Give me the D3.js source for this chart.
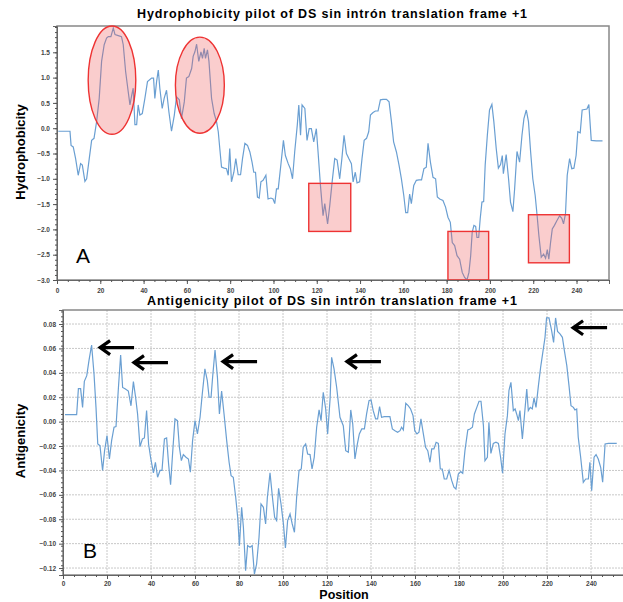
<!DOCTYPE html>
<html lang="en">
<head>
    <meta charset="UTF-8">
    <title>Hydrophobicity and Antigenicity plots</title>
    <style>
        body {
            margin: 0;
            background: #fff;
            font-family: Arial, "Liberation Sans", sans-serif;
        }
        svg {
            display: block;
        }
        .tick text {
            font-size: 6.5px;
            font-weight: bold;
            fill: #444;
        }
        .tick line {
            stroke: #555;
        }
        .domain {
            stroke: #666;
        }
    </style>
    <script src="https://d3js.org/d3.v7.min.js"></script>
</head>
<body>
    <svg width="623" height="602"></svg>

    <script>
        // panel A: hydrophobicity
        const hydroPos = [0.6, 6, 6.5, 7.5, 8.6, 9.8, 10.9, 11.7, 12.9, 13.7, 14.9, 16, 17.1, 18.3, 19.5, 20.6, 21.8, 22.9, 23.7, 24.9,
            26, 26.8, 28.3, 29.8, 30.6, 31.7, 32.9, 33.7, 34.5, 35.2, 36, 36.8, 37.5, 38.3, 39.4, 40.6, 41.8, 43.7, 44.6, 45.2,
            46, 46.8, 47.5, 48.6, 49.5, 50.6, 51.7, 52.9, 54.2, 55.2, 56.5, 57.5, 58.8, 59.8, 60.9, 62.2, 62.9, 63.7, 64.5, 65.5,
            66.5, 67.2, 68, 68.6, 69.5, 70.2, 71.4, 72.6, 73.7, 74.5, 75.2, 76, 77.2, 78.3, 79.1, 79.8, 80.6, 81.7, 82.6, 83.7,
            84.8, 85.7, 86.8, 88, 89.1, 90.1, 90.9, 91.7, 92.6, 93.4, 94.2, 95.2, 96.5, 97.5, 98.8, 99.8, 100.6, 101.4, 102.2, 103.4,
            104.6, 105.5, 106.8, 107.8, 108.8, 109.8, 111, 111.7, 112.5, 113.2, 114.5, 115.5, 116.5, 117.5, 118.6, 119.8, 120.6, 121.7, 122.9, 123.7,
            125, 126, 127.1, 128.3, 129.4, 130.6, 131.6, 132.6, 133.7, 134.8, 136, 136.8, 137.8, 138.6, 139.8, 140.9, 141.9, 143, 144, 144.8,
            146, 147.1, 148.3, 149.4, 150.6, 152.2, 153.4, 154.5, 155.5, 156.8, 158, 159.1, 160.2, 161.1, 162, 162.9, 163.7, 164.8, 166, 167.2,
            168.4, 169.5, 170.6, 171.4, 172.5, 173.7, 174.9, 175.7, 176.8, 178.3, 179.5, 180.6, 181.7, 182.6, 183.7, 184.8, 186, 187.2, 188.3, 189.4,
            190.3, 191.1, 191.8, 192.6, 193.4, 194, 194.8, 195.5, 196.3, 197.1, 197.8, 198.8, 199.8, 200.9, 201.8, 202.9, 203.9, 204.9, 205.7, 206.2,
            207.5, 208.6, 209.5, 210.6, 211.4, 212.5, 213.7, 214.8, 215.7, 216.8, 217.8, 218.8, 219.8, 220.9, 221.8, 222.6, 223.7, 224.8, 225.7, 226.5,
            227.2, 228, 228.8, 229.8, 230.9, 232.2, 233.2, 234, 234.9, 235.7, 236.8, 237.8, 238.8, 239.8, 240.6, 241.7, 242.6, 243.7, 244.8, 245.7,
            246.8, 249.1, 252];
        const hydroVal = [-0.06, -0.06, -0.34, -0.37, -0.6, -0.93, -0.7, -0.73, -1.05, -1.0, -0.6, -0.24, -0.2, 0.13, 0.59, 1.32, 1.65, 1.78, 1.81, 1.81,
            1.98, 1.85, 1.83, 1.81, 1.65, 1.12, 0.72, 0.46, 0.65, 0.79, 0.07, 0.07, 0.46, 0.26, 0.29, 0.59, 0.92, 0.99, 0.99, 0.59,
            0.92, 1.15, 0.79, 0.39, 0.59, 0.75, 0.32, -0.06, 0.26, 0.62, 0.56, 0.19, 0.52, 0.99, 1.02, 1.18, 1.42, 1.51, 1.66, 1.32,
            1.51, 1.38, 1.58, 1.38, 1.55, 1.32, 0.59, 0.29, 0.13, -0.07, -0.4, -0.77, -0.79, -0.8, -0.93, -0.4, -1.06, -0.87, -0.6, -0.92,
            -0.92, -0.6, -0.3, -0.34, -0.47, -0.67, -0.87, -0.87, -1.36, -1.38, -1.06, -1.03, -0.93, -1.4, -1.38, -1.4, -1.49, -1.2, -1.2, -0.73,
            -0.24, -0.54, -0.7, -0.8, -1.0, -0.47, 0.06, 0.46, -0.14, 0.46, 0.39, -0.24, -0.01, -0.01, -0.27, -0.01, -0.47, -1.13, -1.73, -1.49,
            -1.89, -1.53, -1.06, -0.6, -0.63, -1.0, -0.6, -0.14, -0.5, -0.6, -0.7, -1.06, -0.87, -1.08, -1.06, -0.6, -0.24, -0.2, -0.07, 0.26,
            0.31, 0.34, 0.34, 0.56, 0.57, 0.57, 0.52, 0.13, -0.27, -0.47, -0.73, -1.0, -1.33, -1.67, -1.67, -1.3, -1.49, -1.13, -1.03, -1.02,
            -1.02, -0.8, -0.77, -0.3, -0.67, -0.97, -1.0, -1.36, -1.4, -1.43, -1.56, -1.76, -1.86, -2.26, -2.32, -2.52, -2.59, -2.85, -2.95, -3.0,
            -2.85, -2.52, -2.06, -1.92, -1.94, -2.16, -2.16, -1.79, -1.46, -1.45, -0.73, -0.14, 0.36, 0.47, 0.13, -0.4, -0.79, -0.72, -0.54, -0.9,
            -0.52, -1.0, -1.46, -1.65, -1.2, -0.46, -0.67, -0.14, 0.19, 0.36, 0.13, -0.47, -1.0, -1.33, -1.73, -2.12, -2.55, -2.49, -2.57, -2.4,
            -2.59, -2.26, -1.99, -1.92, -1.83, -1.73, -1.78, -1.89, -1.69, -0.93, -0.6, -0.8, -0.79, -0.54, -0.07, -0.09, 0.36, 0.37, 0.38, 0.47,
            -0.24, -0.25, -0.25];

        // panel B: antigenicity
        const antiPos = [0.9, 6.2, 7, 8, 8.9, 9.7, 10.8, 11.8, 13, 14.1, 15, 15.8, 16.8, 18, 18.9, 20, 21.1, 22.1, 23.2, 24.1,
            25.2, 26.2, 27.1, 28.2, 29.7, 30.9, 32, 33, 33.9, 35, 36.1, 37, 38, 38.9, 39.8, 41.1, 42, 43, 44.1, 45,
            46.1, 47.1, 48, 48.9, 49.8, 50.9, 52, 52.9, 53.8, 54.7, 55.9, 57, 57.9, 58.9, 60, 61.1, 62.3, 63.3, 64.5, 65.6,
            66.4, 67.3, 68, 69.1, 70.2, 71.1, 72.1, 73.2, 74.4, 75.5, 76.4, 77.4, 78.5, 79.4, 80.2, 81.2, 82, 83, 83.9, 85,
            86, 87, 88, 89.1, 90, 91.1, 92.1, 92.9, 94.1, 95.2, 96.2, 97.1, 98, 99.1, 100.2, 101.1, 102.1, 103.2, 104.2, 105.2,
            106.2, 107.3, 108.3, 109.2, 110.3, 111.2, 112.3, 113.2, 114.2, 115.3, 116.4, 117.3, 118.3, 119.4, 120.3, 121.4, 122.1, 123.2, 124.4, 125.9,
            127.4, 128.5, 129.7, 130.8, 131.7, 132.7, 133.8, 134.7, 135.8, 137, 138, 139.1, 140, 141, 142.1, 143, 143.9, 144.8, 146, 147.6,
            148.6, 149.7, 150.9, 152.1, 153.2, 153.9, 154.7, 155.8, 156.9, 158, 159.1, 159.9, 160.9, 161.8, 162.7, 163.8, 164.8, 165.8, 166.8, 167.6,
            168.6, 169.6, 170.6, 171.5, 172.4, 173.3, 174.4, 175.5, 176.7, 177.7, 178.6, 179.7, 180.8, 181.7, 182.7, 184, 185, 186.1, 187, 188.1,
            189.1, 190, 191.1, 191.8, 192.9, 193.6, 194.5, 195.6, 196.8, 197.9, 198.9, 199.8, 200.9, 202, 202.7, 203.6, 204.7, 205.5, 206.2, 207,
            207.7, 208.8, 209.7, 210.8, 211.5, 212.4, 213.3, 214.1, 215, 216.1, 217.1, 218, 219.1, 219.8, 220.9, 222.1, 223, 223.9, 224.8, 225.9,
            227, 227.9, 229, 230, 230.9, 232, 232.7, 233.5, 234.2, 235.3, 236.5, 237.6, 238.8, 239.5, 240.3, 241.4, 242.3, 243.3, 244.4, 245.3,
            246.4, 247.9, 251.7];
        const antiVal = [0.0057, 0.0057, 0.027, 0.027, 0.0117, 0.033, 0.0377, 0.05, 0.0628, 0.039, 0.0117, -0.0183, -0.0197, -0.04, -0.0238, -0.0115, -0.0306, -0.0156, -0.0046, -0.0041,
            0.028, 0.0546, 0.028, 0.027, 0.025, 0.013, 0.0328, 0.02, 0.0063, -0.0205, -0.0142, -0.0134, 0.009, -0.0183, -0.0292, -0.042, -0.0333, -0.0456, -0.04, -0.04,
            -0.0142, -0.0134, -0.0347, -0.0516, -0.0265, 0.0022, 0.0008, -0.021, -0.032, -0.027, -0.0292, -0.0306, -0.0415, -0.0156, 0.0008, -0.0101, 0.0036, 0.0227, 0.0432, 0.0336,
            0.02, 0.02, 0.0363, 0.0587, 0.0363, 0.0063, 0.025, 0.0063, -0.0156, -0.0333, -0.0443, -0.0456, -0.062, -0.0784, -0.1016, -0.0702, -0.0866, -0.1221, -0.1016, -0.103,
            -0.1016, -0.1249, -0.1167, -0.0948, -0.0675, -0.0702, -0.0839, -0.062, -0.042, -0.062, -0.0784, -0.0811, -0.0546, -0.0675, -0.0839, -0.1036, -0.0811, -0.0757, -0.0839, -0.0907,
            -0.062, -0.04, -0.0388, -0.021, -0.0183, -0.0265, -0.027, -0.0388, -0.0292, -0.0046, 0.0096, 0.0008, 0.024, 0.0104, -0.0101, 0.0186, 0.0527, 0.0432, 0.028, 0.0036,
            -0.0033, -0.0238, -0.0251, 0.0096, -0.0019, -0.0306, -0.0183, -0.0101, -0.006, -0.006, 0.0063, 0.0172, 0.0178, 0.009, 0.0022, 0.0022, 0.0123, 0.0036, 0.0041, 0.0041,
            0.0041, -0.006, -0.0074, -0.0087, -0.0074, -0.0046, -0.0068, 0.015, 0.0131, 0.0104, 0.0049, -0.0074, -0.0101, -0.0087, 0.0022, -0.0101, -0.021, -0.0238, -0.0333, -0.0224,
            -0.0224, -0.0169, -0.0178, -0.0388, -0.0388, -0.047, -0.047, -0.04, -0.0484, -0.0538, -0.0552, -0.0429, -0.041, -0.0423, -0.0238, -0.0068, -0.006, -0.0046, 0.0063, 0.0117,
            0.0167, 0.0167, -0.0033, -0.032, -0.0292, -0.0005, -0.026, -0.0178, -0.0169, -0.0178, -0.0292, -0.0423, -0.0101, 0.0049, 0.0254, 0.0322, 0.009, 0.0104, 0.0063, 0.0008,
            0.009, -0.0142, 0.0041, 0.0268, 0.009, 0.0117, 0.0104, 0.0194, 0.0117, 0.0295, 0.0445, 0.0555, 0.0691, 0.085, 0.085, 0.0746, 0.065, 0.085, 0.074, 0.0719,
            0.0691, 0.0582, 0.0459, 0.0295, 0.0131, 0.0117, 0.0096, 0.0104, -0.0128, -0.0292, -0.0497, -0.047, -0.047, -0.0333, -0.0566, -0.0292, -0.027, -0.0306, -0.0374, -0.0497,
            -0.0183, -0.0178, -0.0178];

        // annotations in data units
        const hydroEllipses = [
            {cx: 25.4, cy: 0.95, rx: 11, ry: 1.07},
            {cx: 66, cy: 0.85, rx: 11.3, ry: 0.95}
        ];
        const hydroBoxes = [
            {x0: 116.3, x1: 135.7, y0: -2.04, y1: -1.09},
            {x0: 180.6, x1: 199.4, y0: -3.0, y1: -2.04},
            {x0: 217.8, x1: 236.7, y0: -2.66, y1: -1.71}
        ];
        const antiArrows = [
            {x: 16.4, y: 0.0607},
            {x: 31.8, y: 0.0484},
            {x: 72.3, y: 0.0492},
            {x: 128.6, y: 0.0492},
            {x: 231.4, y: 0.077}
        ];

        const lineColor = "#6a9fd2";
        const svg = d3.select("svg");

        function drawMinor(g, scale, orient, step) {
            const ticks = d3.range(scale.domain()[0], scale.domain()[1] + 1e-9, step);
            const axis = (orient === "left" ? d3.axisLeft(scale) : d3.axisBottom(scale))
                .tickValues(ticks).tickSize(2).tickFormat("");
            g.append("g").attr("class", "minor").call(axis)
                .call(s => s.select(".domain").remove());
        }

        // ---------- Panel A ----------
        const xA = d3.scaleLinear().domain([0, 255]).range([57, 609]);
        const yA = d3.scaleLinear().domain([-3, 2.02]).range([280, 26]);

        const gA = svg.append("g");

        gA.append("rect")
            .attr("x", xA(0)).attr("y", yA(2.02))
            .attr("width", xA(255) - xA(0)).attr("height", yA(-3) - yA(2.02))
            .attr("fill", "none").attr("stroke", "#888").attr("stroke-width", 1.5);

        gA.append("path")
            .datum(d3.zip(hydroPos, hydroVal))
            .attr("fill", "none")
            .attr("stroke", lineColor)
            .attr("stroke-width", 1.2)
            .attr("d", d3.line().x(d => xA(d[0])).y(d => yA(d[1])));

        gA.selectAll("ellipse")
            .data(hydroEllipses)
            .enter().append("ellipse")
            .attr("cx", d => xA(d.cx)).attr("cy", d => yA(d.cy))
            .attr("rx", d => xA(d.rx) - xA(0)).attr("ry", d => yA(0) - yA(d.ry))
            .attr("fill", "rgba(240,90,90,0.3)").attr("stroke", "#e33").attr("stroke-width", 1.4);

        gA.selectAll("rect.box")
            .data(hydroBoxes)
            .enter().append("rect")
            .attr("class", "box")
            .attr("x", d => xA(d.x0)).attr("y", d => yA(d.y1))
            .attr("width", d => xA(d.x1) - xA(d.x0)).attr("height", d => yA(d.y0) - yA(d.y1))
            .attr("fill", "rgba(240,90,90,0.3)").attr("stroke", "#e33").attr("stroke-width", 1.4);

        const axAy = gA.append("g").attr("transform", `translate(${xA(0)},0)`);
        axAy.call(d3.axisLeft(yA).tickValues(d3.range(-3, 1.51, 0.5)).tickSize(4).tickPadding(3).tickFormat(d3.format(".1f")));
        drawMinor(axAy, yA, "left", 0.1);

        const axAx = gA.append("g").attr("transform", `translate(0,${yA(-3)})`);
        axAx.call(d3.axisBottom(xA).tickValues(d3.range(0, 241, 20)).tickSize(4).tickPadding(4));
        drawMinor(axAx, xA, "bottom", 5);

        gA.append("text")
            .attr("x", 332).attr("y", 18)
            .attr("text-anchor", "middle")
            .attr("font-size", 12.5).attr("font-weight", "bold")
            .attr("textLength", 390).attr("lengthAdjust", "spacing")
            .text("Hydrophobicity pilot of DS sin intrón translation frame +1");

        gA.append("text")
            .attr("transform", "translate(25,152) rotate(-90)")
            .attr("text-anchor", "middle")
            .attr("font-size", 13).attr("font-weight", "bold")
            .text("Hydrophobicity");

        gA.append("text")
            .attr("x", 76).attr("y", 263)
            .attr("font-size", 21)
            .text("A");

        // ---------- Panel B ----------
        const xB = d3.scaleLinear().domain([0, 255]).range([63, 624]);
        const yB = d3.scaleLinear().domain([-0.1257, 0.0915]).range([575, 310]);

        const gB = svg.append("g");

        const gridB = gB.append("g")
            .attr("stroke", "#c8c8c8").attr("stroke-width", 1).attr("stroke-dasharray", "2,1");
        gridB.selectAll("line.v")
            .data(d3.range(20, 241, 20))
            .enter().append("line")
            .attr("x1", d => xB(d)).attr("x2", d => xB(d))
            .attr("y1", yB(0.0915)).attr("y2", yB(-0.1257));
        gridB.selectAll("line.h")
            .data(d3.range(-0.12, 0.081, 0.02))
            .enter().append("line")
            .attr("x1", xB(0)).attr("x2", xB(255))
            .attr("y1", d => yB(d)).attr("y2", d => yB(d));

        gB.append("rect")
            .attr("x", xB(0)).attr("y", yB(0.0915))
            .attr("width", xB(255) - xB(0)).attr("height", yB(-0.1257) - yB(0.0915))
            .attr("fill", "none").attr("stroke", "#888").attr("stroke-width", 1.5);

        gB.append("path")
            .datum(d3.zip(antiPos, antiVal))
            .attr("fill", "none")
            .attr("stroke", lineColor)
            .attr("stroke-width", 1.2)
            .attr("d", d3.line().x(d => xB(d[0])).y(d => yB(d[1])));

        const axBy = gB.append("g").attr("transform", `translate(${xB(0)},0)`);
        axBy.call(d3.axisLeft(yB).tickValues(d3.range(-0.12, 0.081, 0.02)).tickSize(4).tickPadding(3).tickFormat(d3.format(".2f")));
        drawMinor(axBy, yB, "left", 0.004);

        const axBx = gB.append("g").attr("transform", `translate(0,${yB(-0.1257)})`);
        axBx.call(d3.axisBottom(xB).tickValues(d3.range(0, 241, 20)).tickSize(4).tickPadding(2));
        drawMinor(axBx, xB, "bottom", 5);

        // arrows pointing at the antigenic peaks
        const arrowLen = 35;
        gB.selectAll("path.arrow")
            .data(antiArrows)
            .enter().append("path")
            .attr("class", "arrow")
            .attr("fill", "none").attr("stroke", "#000").attr("stroke-width", 3.2)
            .attr("stroke-linejoin", "miter").attr("stroke-linecap", "butt")
            .attr("d", d => {
                const tx = xB(d.x), ty = yB(d.y);
                return `M${tx + 11},${ty - 7} L${tx + 1},${ty} L${tx + 11},${ty + 7} M${tx + 1},${ty} L${tx + arrowLen},${ty}`;
            });

        gB.append("text")
            .attr("x", 332).attr("y", 305)
            .attr("text-anchor", "middle")
            .attr("font-size", 12.5).attr("font-weight", "bold")
            .attr("textLength", 370).attr("lengthAdjust", "spacing")
            .text("Antigenicity pilot of DS sin intrón translation frame +1");

        gB.append("text")
            .attr("transform", "translate(25,441) rotate(-90)")
            .attr("text-anchor", "middle")
            .attr("font-size", 13).attr("font-weight", "bold")
            .text("Antigenicity");

        gB.append("text")
            .attr("x", 344).attr("y", 598.5)
            .attr("text-anchor", "middle")
            .attr("font-size", 12.5).attr("font-weight", "bold")
            .text("Position");

        gB.append("text")
            .attr("x", 83).attr("y", 558)
            .attr("font-size", 21)
            .text("B");
    </script>
</body>
</html>
